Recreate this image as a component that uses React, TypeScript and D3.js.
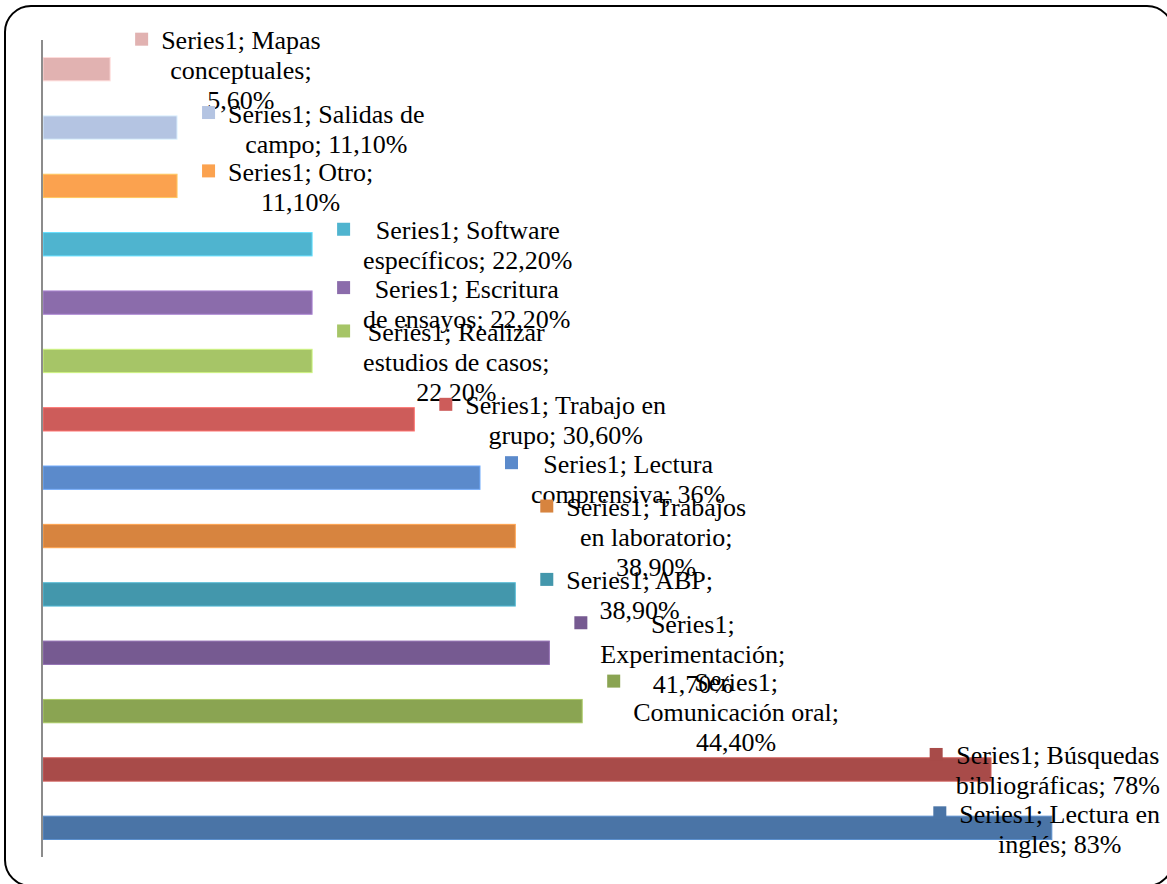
import React, { useRef, useEffect } from 'react';
import * as d3 from 'd3';

// categories top to bottom
const categories = [
  'Mapas conceptuales',
  'Salidas de campo',
  'Otro',
  'Software específicos',
  'Escritura de ensayos',
  'Realizar estudios de casos',
  'Trabajo en grupo',
  'Lectura comprensiva',
  'Trabajos en laboratorio',
  'ABP',
  'Experimentación',
  'Comunicación oral',
  'Búsquedas bibliográficas',
  'Lectura en inglés',
];

const values = [5.6, 11.1, 11.1, 22.2, 22.2, 22.2, 30.6, 36, 38.9, 38.9, 41.7, 44.4, 78, 83];

const colors = [
  '#E1B2B1', '#B4C4E2', '#FBA24F', '#4FB4CF', '#8B6CAB', '#A6C567', '#CD5C5A',
  '#5B8ACB', '#D7843F', '#4397AC', '#765A91', '#8AA452', '#A84B49', '#4A74A6',
];

// words per line in each data label
const labelWrap = [
  [2, 1, 1], [3, 2], [2, 1], [2, 2], [2, 3], [2, 3, 1], [3, 2],
  [2, 2], [2, 2, 1], [2, 1], [1, 1, 1], [1, 2, 1], [2, 2], [3, 2],
];

const seriesName = 'Series1';

const fmt = (v: number) =>
  (Number.isInteger(v) ? `${v}` : v.toFixed(2).replace('.', ',')) + '%';

const App = () => {
  const ref = useRef<SVGSVGElement | null>(null);
  const width = 1167;
  const height = 884;

  useEffect(() => {
    if (!ref.current) return;
    const svg = d3.select(ref.current);
    svg.selectAll('*').remove();

    // outer frame (right and bottom edges fall just outside the picture)
    svg
      .append('rect')
      .attr('x', 5)
      .attr('y', 6)
      .attr('width', 1168)
      .attr('height', 880)
      .attr('rx', 26)
      .attr('fill', '#fff')
      .attr('stroke', '#000')
      .attr('stroke-width', 2);

    const x = d3.scaleLinear().domain([0, 90]).range([42, 1137]);
    const y = d3
      .scaleBand<string>()
      .domain(categories)
      .range([40, 857])
      .paddingInner(0.6)
      .paddingOuter(0.3);

    // bars
    svg
      .append('g')
      .selectAll('rect')
      .data(categories)
      .enter()
      .append('rect')
      .attr('x', x(0) + 1)
      .attr('y', (d) => y(d) ?? 0)
      .attr('width', (_, i) => x(values[i]) - x(0) - 1)
      .attr('height', y.bandwidth())
      .attr('fill', (_, i) => colors[i])
      .attr('stroke', (_, i) => d3.color(colors[i])!.brighter(0.6).formatHex())
      .attr('stroke-width', 1);

    // vertical axis line
    svg
      .append('line')
      .attr('x1', x(0))
      .attr('x2', x(0))
      .attr('y1', 40)
      .attr('y2', 857)
      .attr('stroke', '#8c8c8c')
      .attr('stroke-width', 2);

    // data labels
    const lineH = 30;
    const rightLimit = 1160;
    const labels = svg.append('g');
    categories.forEach((cat, i) => {
      const words = `${seriesName}; ${cat}; ${fmt(values[i])}`.split(' ');
      const lines: string[] = [];
      let k = 0;
      labelWrap[i].forEach((n) => {
        lines.push(words.slice(k, k + n).join(' '));
        k += n;
      });
      const cy = (y(cat) ?? 0) + y.bandwidth() / 2;
      const firstY = cy - ((lines.length - 1) * lineH) / 2;
      const g = labels.append('g');
      const texts = lines.map((ln, j) =>
        g
          .append('text')
          .attr('y', firstY + 10 + j * lineH)
          .attr('text-anchor', 'middle')
          .attr('font-family', '"Liberation Serif", "Times New Roman", serif')
          .attr('font-size', 26)
          .attr('fill', '#000')
          .text(ln)
      );
      const w = d3.max(texts, (t) => (t.node() as SVGTextElement).getComputedTextLength()) ?? 0;
      let left = x(values[i]) + 25 + 26;
      if (left + w > rightLimit) left = rightLimit - w;
      texts.forEach((t) => t.attr('x', left + w / 2));
      g.insert('rect', 'text')
        .attr('x', left - 26)
        .attr('y', firstY - 6.5)
        .attr('width', 13)
        .attr('height', 13)
        .attr('fill', colors[i]);
    });
  }, []);

  return (
    <div style={{ position: 'absolute', left: 0, top: 0 }}>
      <svg ref={ref} width={width} height={height} style={{ display: 'block' }} />
    </div>
  );
};

export default App;
